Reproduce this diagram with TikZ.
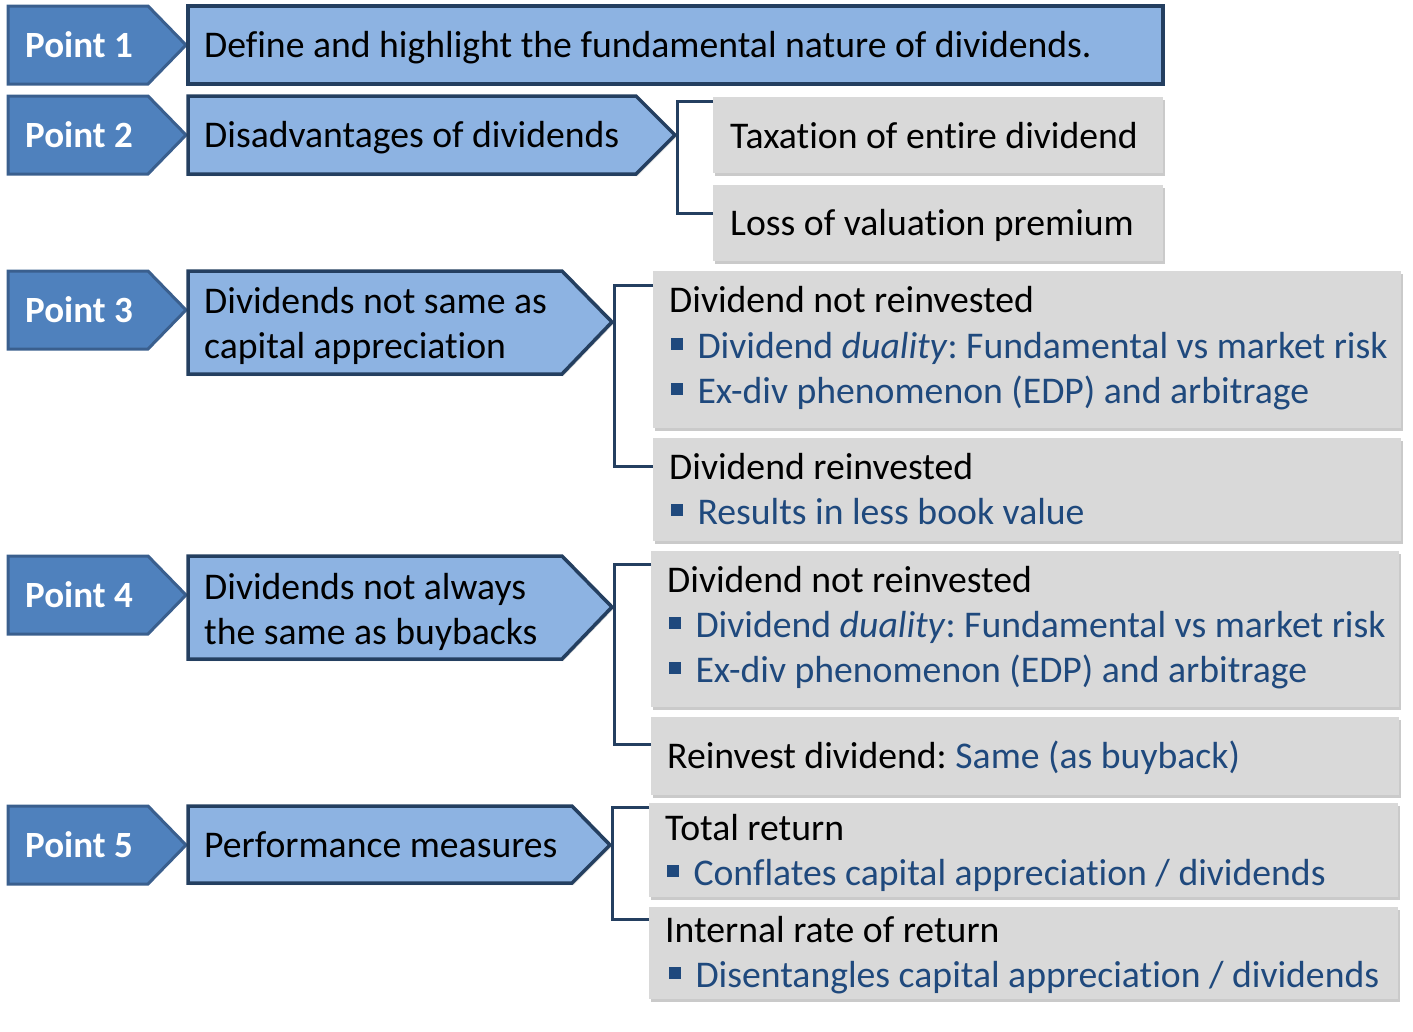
\documentclass[tikz,border=0pt]{standalone}
\usepackage{fontspec}
\setmainfont{Carlito}[Ligatures=NoCommon]
\usetikzlibrary{shadows}
\definecolor{ptfill}{HTML}{4F81BD}
\definecolor{ptdraw}{HTML}{3A5F8E}
\definecolor{lbfill}{HTML}{8DB3E2}
\definecolor{navy}{HTML}{243F60}
\definecolor{greyfill}{HTML}{D9D9D9}
\definecolor{bluetext}{HTML}{1F497D}
\newcommand\bsq{\textcolor{bluetext}{\rule[0.22em]{0.3em}{0.3em}}\hspace{15pt}}
\frenchspacing
\begin{document}
\begin{tikzpicture}[x=1pt,y=-1pt,
  ptshape/.style={fill=ptfill,draw=ptdraw,line width=3pt,line join=miter},
  lbshape/.style={fill=lbfill,draw=navy,line width=3.5pt,line join=miter,
    drop shadow={shadow xshift=1.5pt,shadow yshift=-2pt,fill=black!30,opacity=.5}},
  gbox/.style={fill=greyfill,draw=none,inner sep=0pt,anchor=north west,
    drop shadow={shadow xshift=2pt,shadow yshift=-3pt,fill=black!35,opacity=.6}},
  pttext/.style={anchor=base west,inner sep=0pt,text=white,font=\fontsize{37}{45}\selectfont\bfseries},
  txt/.style={anchor=base west,inner sep=0pt,text=black,font=\fontsize{37.7}{45}\selectfont},
  btxt/.style={anchor=base west,inner sep=0pt,text=bluetext,font=\fontsize{37.7}{45}\selectfont},
  bracket/.style={draw=navy,line width=3pt,line join=miter}]
\useasboundingbox (0,0) rectangle (1413,1031);

% ---------- Point arrows ----------
\draw[ptshape] (8,6) -- (148,6) -- (186,45) -- (148,84) -- (8,84) -- cycle;
\draw[ptshape] (8,96) -- (148,96) -- (186,135) -- (148,174) -- (8,174) -- cycle;
\draw[ptshape] (8,271) -- (148,271) -- (186,310) -- (148,349) -- (8,349) -- cycle;
\draw[ptshape] (8,556) -- (148,556) -- (186,595) -- (148,634) -- (8,634) -- cycle;
\draw[ptshape] (8,806) -- (148,806) -- (186,845) -- (148,884) -- (8,884) -- cycle;
\node[pttext] (p1) at (25,57) {Point 1};
\node[pttext] (p2) at (25,147) {Point 2};
\node[pttext] (p3) at (25,322) {Point 3};
\node[pttext] (p4) at (25,607) {Point 4};
\node[pttext] (p5) at (25,857) {Point 5};

% ---------- Light blue boxes ----------
\draw[lbshape] (188,6) rectangle (1163,84);
\draw[lbshape] (188,96) -- (636,96) -- (675,135) -- (636,174) -- (188,174) -- cycle;
\draw[lbshape] (188,271) -- (562,271) -- (612,322) -- (562,374) -- (188,374) -- cycle;
\draw[lbshape] (188,556) -- (562,556) -- (612,607) -- (562,659) -- (188,659) -- cycle;
\draw[lbshape] (188,806) -- (572,806) -- (610,845) -- (572,883) -- (188,883) -- cycle;
\coordinate (tip2) at (677,135);
\coordinate (tip3) at (614,322);
\coordinate (tip4) at (614,607);
\coordinate (tip5) at (612,845);
\node[txt] (t1) at (204,57) {Define and highlight the fundamental nature of dividends.};
\node[txt] (t2) at (204,147) {Disadvantages of dividends};
\node[txt] (t3a) at (204,313) {Dividends not same as};
\node[txt] (t3b) at (204,358) {capital appreciation};
\node[txt] (t4a) at (204,599) {Dividends not always};
\node[txt] (t4b) at (204,644) {the same as buybacks};
\node[txt] (t5) at (204,857) {Performance measures};

% ---------- Grey boxes ----------
\node[gbox,minimum width=450pt,minimum height=76pt] (g2a) at (713,97) {};
\node[gbox,minimum width=450pt,minimum height=76pt] (g2b) at (713,185) {};
\node[gbox,minimum width=748pt,minimum height=157pt] (g3a) at (653,271) {};
\node[gbox,minimum width=748pt,minimum height=103pt] (g3b) at (653,438) {};
\node[gbox,minimum width=748pt,minimum height=156pt] (g4a) at (651,551) {};
\node[gbox,minimum width=748pt,minimum height=78pt] (g4b) at (651,717) {};
\node[gbox,minimum width=749pt,minimum height=94pt] (g5a) at (649,803) {};
\node[gbox,minimum width=749pt,minimum height=92pt] (g5b) at (649,907) {};

\node[txt] (x2a) at (730,148) {Taxation of entire dividend};
\node[txt] (x2b) at (730,235) {Loss of valuation premium};

\node[txt] (x3a) at (669,312) {Dividend not reinvested};
\node[btxt] (x3a1) at (671,358) {\bsq Dividend \textit{duality}: Fundamental vs market risk};
\node[btxt] (x3a2) at (671,403) {\bsq Ex-div phenomenon (EDP) and arbitrage};
\node[txt] (x3b) at (669,479) {Dividend reinvested};
\node[btxt] (x3b1) at (671,524) {\bsq Results in less book value};

\node[txt] (x4a) at (667,592) {Dividend not reinvested};
\node[btxt] (x4a1) at (669,637) {\bsq Dividend \textit{duality}: Fundamental vs market risk};
\node[btxt] (x4a2) at (669,682) {\bsq Ex-div phenomenon (EDP) and arbitrage};
\node[txt] (x4b) at (667,768) {Reinvest dividend: \textcolor{bluetext}{Same (as buyback)}};

\node[txt] (x5a) at (665,840) {Total return};
\node[btxt] (x5a1) at (667,885) {\bsq Conflates capital appreciation / dividends};
\node[txt] (x5b) at (665,942) {Internal rate of return};
\node[btxt] (x5b1) at (669,987) {\bsq Disentangles capital appreciation / dividends};

% ---------- Brackets ----------
\coordinate (b2t) at (g2a.west |- 0,101);
\coordinate (b2b) at (g2b.west |- 0,213);
\draw[bracket] (b2t) -| (tip2) |- (b2b);
\coordinate (b3t) at (g3a.west |- 0,285);
\coordinate (b3b) at (g3b.west |- 0,466);
\draw[bracket] (b3t) -| (tip3) |- (b3b);
\coordinate (b4t) at (g4a.west |- 0,564);
\coordinate (b4b) at (g4b.west |- 0,744);
\draw[bracket] (b4t) -| (tip4) |- (b4b);
\coordinate (b5t) at (g5a.west |- 0,807);
\coordinate (b5b) at (g5b.west |- 0,919);
\draw[bracket] (b5t) -| (tip5) |- (b5b);
\end{tikzpicture}
\end{document}
